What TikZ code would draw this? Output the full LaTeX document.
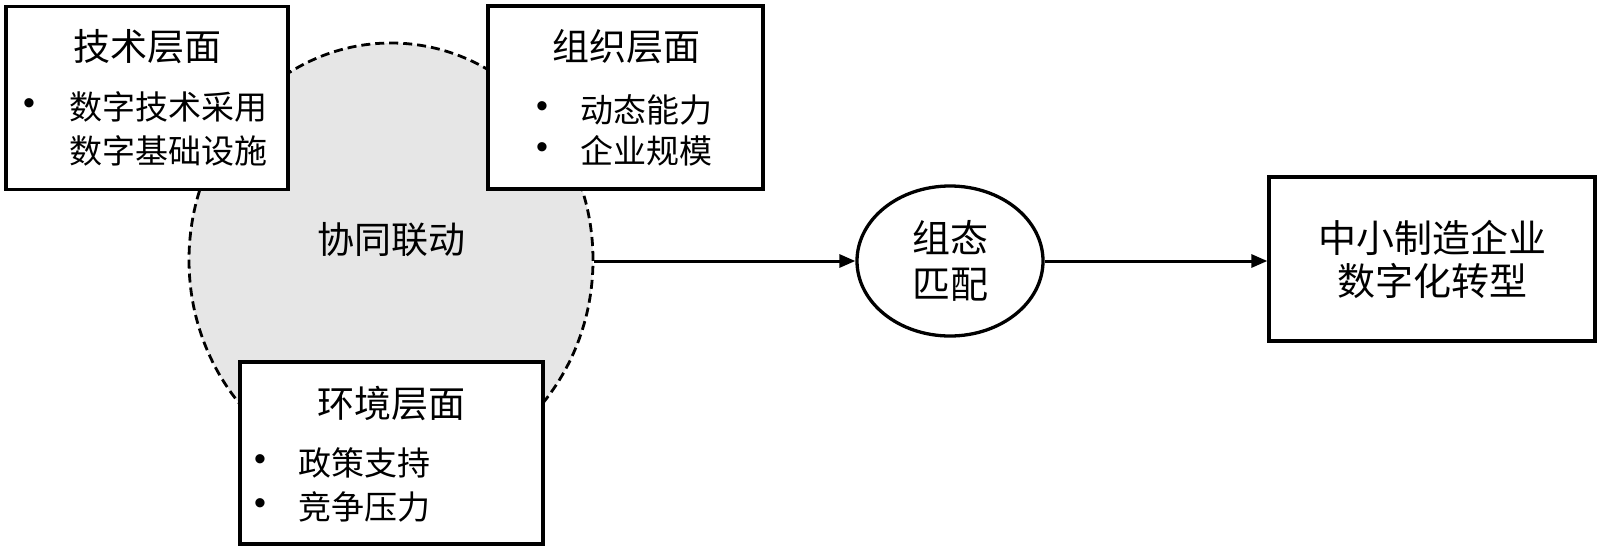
\documentclass[tikz,border=0pt]{standalone}
\usepackage{fontspec}
\newfontfamily\cjk{Noto Sans CJK SC}
\newfontfamily\bul{Liberation Sans}
\usetikzlibrary{shapes.geometric,arrows.meta}
\definecolor{syncgray}{HTML}{E6E6E6}
\begin{document}
\begin{tikzpicture}[x=1pt,y=-1pt,
  boxnode/.style={draw=black,line width=3.3pt,fill=white,rectangle,inner sep=0pt},
  titletext/.style={font=\cjk\fontsize{37}{37}\selectfont,inner sep=0pt,anchor=center},
  itemtext/.style={font=\cjk\fontsize{33}{33}\selectfont,inner sep=0pt,anchor=west},
  dot/.style={font=\bul\fontsize{34}{34}\selectfont,inner sep=0pt,anchor=center},
  arr/.style={-{Triangle[length=16pt,width=13pt]},line width=3pt}]
\useasboundingbox (0,0) rectangle (1600,552);
% gray synergy ellipse
\node[ellipse,draw=black,dash pattern=on 9pt off 5pt,line width=2.8pt,fill=syncgray,
      minimum width=404pt,minimum height=434pt,inner sep=0pt] (sync) at (391,260) {};
\node[titletext] (synctext) at (391,240) {协同联动};
% technology box
\node[boxnode,minimum width=282pt,minimum height=183pt] (tech) at (147,98) {};
\node[titletext] (techt) at (147,47) {技术层面};
\node[dot] (techb1) at (29,107) {•};
\node[itemtext] (techi1) at (69,107) {数字技术采用};
\node[itemtext] (techi2) at (69,151) {数字基础设施};
% organisation box
\node[boxnode,minimum width=275pt,minimum height=183pt] (org) at (625.5,97.5) {};
\node[titletext] (orgt) at (626,47) {组织层面};
\node[dot] (orgb1) at (542,110) {•};
\node[itemtext] (orgi1) at (580,110) {动态能力};
\node[dot] (orgb2) at (542,151) {•};
\node[itemtext] (orgi2) at (580,151) {企业规模};
% environment box
\node[boxnode,minimum width=303pt,minimum height=182pt] (env) at (391.5,453) {};
\node[titletext] (envt) at (391,403) {环境层面};
\node[dot] (envb1) at (260,463) {•};
\node[itemtext] (envi1) at (298,463) {政策支持};
\node[dot] (envb2) at (260,507) {•};
\node[itemtext] (envi2) at (298,507) {竞争压力};
% configuration matching
\node[ellipse,draw=black,line width=3.3pt,fill=white,minimum width=186pt,minimum height=150pt,
      inner sep=0pt,align=center,font=\cjk\fontsize{38}{46}\selectfont] (match) at (950,261) {组态\\匹配};
% outcome box
\node[boxnode,minimum width=326pt,minimum height=164pt,align=center,
      font=\cjk\fontsize{38}{43}\selectfont] (goal) at (1432,259) {中小制造企业\\数字化转型};
% arrows
\draw[arr] (sync.east |- match.west) -- (match.west);
\draw[arr] (match.east) -- (match.east -| goal.west);
\end{tikzpicture}
\end{document}
